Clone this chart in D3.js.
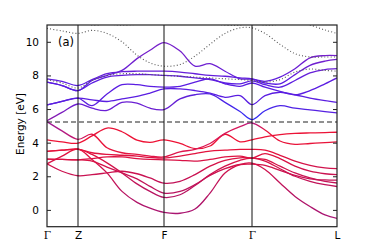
<!DOCTYPE html>
<html><head><meta charset="utf-8">
<script src="https://cdn.jsdelivr.net/npm/d3@7"></script>
<style>body{margin:0;background:#fff}</style>
</head><body><svg id="c" width="374" height="252"></svg>
<script>
// ---------- data ----------
const kLabels = ["Γ", "Z", "F", "Γ", "L"];
const kTicks  = [0, 0.31, 1.17, 2.05, 2.90];
const kGrid   = [0, 0.15, 0.31, 0.45, 0.60, 0.75, 0.90, 1.03, 1.17, 1.33, 1.48, 1.63, 1.78, 1.93, 2.05, 2.18, 2.33, 2.48, 2.63, 2.78, 2.90];
const fermiLevel = 5.23;
const yTickValues = [0, 2, 4, 6, 8, 10];

// valence bands (eV)
const bandV0 = [5.25, 4.7, 4.2, 4.5, 3.7, 3.4, 3.3, 3.2, 3.15, 3.45, 3.6, 3.95, 4.55, 4.95, 5.17, 4.75, 4.1, 3.9, 3.95, 4.0, 4.05];
const bandV1 = [4.17, 4.05, 3.97, 4.4, 4.87, 4.65, 4.15, 4.02, 4.17, 3.95, 3.65, 3.8, 4.5, 4.05, 4.17, 4.35, 4.48, 4.55, 4.58, 4.6, 4.62];
const bandV2 = [3.48, 3.55, 3.6, 3.4, 3.3, 3.25, 3.2, 3.12, 3.08, 3.2, 3.35, 3.5, 3.55, 3.6, 3.6, 3.55, 3.25, 2.9, 2.65, 2.5, 2.45];
const bandV3 = [3.02, 3.0, 2.98, 3.05, 3.15, 3.15, 3.05, 3.0, 2.98, 2.95, 2.9, 3.0, 3.15, 3.2, 3.08, 3.35, 3.05, 2.6, 2.3, 2.15, 2.1];
const bandV4 = [2.74, 2.3, 2.03, 2.1, 2.2, 2.3, 2.15, 1.9, 1.59, 1.7, 2.1, 2.6, 2.95, 3.1, 3.08, 3.0, 2.6, 2.2, 1.9, 1.7, 1.6];
const bandV5 = [3.02, 3.0, 2.98, 2.9, 2.55, 2.2, 1.85, 1.4, 1.0, 1.1, 1.5, 2.05, 2.45, 2.7, 2.72, 2.65, 2.35, 2.05, 1.85, 1.78, 1.77];
const bandV6 = [3.48, 3.55, 3.62, 3.3, 2.8, 2.2, 1.55, 1.1, 0.74, 0.9, 1.45, 2.1, 2.6, 2.95, 3.08, 2.9, 2.45, 2.0, 1.7, 1.5, 1.39];
const bandV7 = [2.74, 3.2, 3.62, 3.0, 2.2, 1.1, 0.45, 0.1, -0.15, -0.2, 0.05, 1.0, 2.2, 2.7, 2.78, 2.4, 1.6, 0.8, 0.2, -0.3, -0.5];

// conduction bands (eV)
const bandC0 = [5.3, 5.8, 6.3, 6.05, 5.92, 6.4, 6.35, 6.05, 5.97, 6.6, 6.85, 6.9, 6.4, 5.85, 5.37, 5.9, 6.2, 6.05, 5.95, 5.85, 5.77];
const bandC1 = [6.25, 6.45, 6.65, 6.55, 6.45, 6.6, 6.75, 6.95, 7.2, 7.2, 7.1, 6.95, 6.7, 6.8, 6.26, 6.8, 7.0, 6.85, 6.65, 6.5, 6.4];
const bandC2 = [6.25, 6.45, 6.65, 6.2, 6.9, 7.45, 7.45, 7.35, 7.3, 7.35, 7.6, 7.8, 7.5, 7.35, 7.55, 7.3, 7.05, 6.85, 7.1, 7.5, 7.85];
const bandC3 = [7.6, 7.4, 7.1, 7.55, 7.9, 8.0, 8.05, 8.05, 8.0, 7.95, 7.85, 7.75, 7.55, 7.5, 7.68, 7.45, 7.3, 7.7, 8.15, 8.35, 8.4];
const bandC4 = [7.8, 7.65, 7.4, 7.75, 8.1, 8.22, 8.25, 8.25, 8.25, 8.2, 8.1, 8.0, 7.95, 7.85, 7.8, 7.55, 7.5, 8.05, 8.6, 8.85, 8.95];
const bandC5 = [7.6, 7.4, 7.1, 7.7, 8.0, 8.3, 9.0, 9.5, 9.95, 9.45, 8.55, 8.7, 8.25, 7.8, 7.78, 7.65, 7.9, 8.4, 9.05, 9.18, 9.18];

// dotted bands (eV)
const bandD0 = [10.8, 10.65, 10.5, 10.68, 10.5, 10.0, 9.2, 8.75, 8.55, 8.65, 9.15, 9.85, 10.5, 10.83, 10.83, 10.5, 9.85, 9.3, 9.1, 9.1, 9.1];
const bandD1 = [11.4, 11.3, 11.2, 11.0, 11.05, 11.0, 11.05, 11.2, 11.4, 11.4, 11.3, 11.1, 11.0, 11.0, 11.1, 11.0, 11.05, 11.2, 11.0, 10.7, 10.5];
const bandD2 = [7.75, 7.55, 7.25, 7.7, 8.0, 8.1, 8.1, 8.05, 8.0, 7.95, 7.9, 7.85, 7.8, 7.75, 7.7, 7.6, 7.75, 8.2, 8.38, 8.3, 8.25];

const valenceBands = [bandV1, bandV2, bandV3, bandV4, bandV5, bandV6, bandV7];
const conductionBands = [bandC1, bandC2, bandC3, bandC4, bandC5];
const dottedBands = [bandD0, bandD1, bandD2];

// ---------- drawing ----------
const L = 47, R = 337, T = 25, B = 226.7;
const svg = d3.select("#c");
const x = d3.scaleLinear().domain([0, 2.90]).range([L, R]);
const y = d3.scaleLinear().domain([-1, 11]).range([B, T]);

const defs = svg.append("defs");
defs.append("clipPath").attr("id", "clip").append("rect")
  .attr("x", L).attr("y", T).attr("width", R - L).attr("height", B - T);

function vgrad(id, stops) {
  const g = defs.append("linearGradient").attr("id", id)
    .attr("gradientUnits", "userSpaceOnUse")
    .attr("x1", 0).attr("x2", 0).attr("y1", y(-1)).attr("y2", y(11));
  stops.forEach(([e, c]) => g.append("stop")
    .attr("offset", (e + 1) / 12).attr("stop-color", c));
}
function hgrad(id, stops) {
  const g = defs.append("linearGradient").attr("id", id)
    .attr("gradientUnits", "userSpaceOnUse")
    .attr("x1", x(0)).attr("x2", x(2.9)).attr("y1", 0).attr("y2", 0);
  stops.forEach(([k, c]) => g.append("stop")
    .attr("offset", k / 2.9).attr("stop-color", c));
}
vgrad("gv", [[-1, "#a3177c"], [0.5, "#b01468"], [2.5, "#d0124c"], [4.0, "#ee1234"], [5.3, "#e8143a"], [11, "#e8143a"]]);
vgrad("gc", [[-1, "#3526f2"], [5.3, "#3a24f2"], [6.0, "#5a1fe0"], [7.5, "#5a1ce2"], [9.0, "#7420cc"], [11, "#7a22c8"]]);
hgrad("gv0", [[0, "#9a1c9c"], [0.31, "#c8186a"], [0.5, "#e8143a"], [1.9, "#d8185a"], [2.05, "#b01c8a"], [2.2, "#e8143a"], [2.9, "#e8143a"]]);
hgrad("gc0", [[0, "#8c1aa6"], [0.31, "#6a1ed8"], [1.17, "#6a1ed0"], [1.8, "#4a24e8"], [2.05, "#2f2ff6"], [2.3, "#4a22e6"], [2.9, "#5a20e0"]]);

const line = d3.line()
  .x((d, i) => x(kGrid[i]))
  .y(d => y(d))
  .curve(d3.curveCatmullRom.alpha(0.5));

const plot = svg.append("g").attr("clip-path", "url(#clip)");

plot.selectAll(".vb").data(valenceBands).join("path")
  .attr("d", line).attr("fill", "none")
  .attr("stroke", "url(#gv)").attr("stroke-width", 1.3);
plot.append("path").datum(bandV0).attr("d", line).attr("fill", "none")
  .attr("stroke", "url(#gv0)").attr("stroke-width", 1.3);

plot.selectAll(".cb").data(conductionBands).join("path")
  .attr("d", line).attr("fill", "none")
  .attr("stroke", "url(#gc)").attr("stroke-width", 1.3);
plot.append("path").datum(bandC0).attr("d", line).attr("fill", "none")
  .attr("stroke", "url(#gc0)").attr("stroke-width", 1.3);

plot.selectAll(".db").data(dottedBands).join("path")
  .attr("d", line).attr("fill", "none")
  .attr("stroke", "#555").attr("stroke-width", 1.1)
  .attr("stroke-dasharray", "1,2.2");

// Fermi level
svg.append("line")
  .attr("x1", L).attr("x2", R).attr("y1", y(fermiLevel)).attr("y2", y(fermiLevel))
  .attr("stroke", "#222").attr("stroke-width", 1.1).attr("stroke-dasharray", "5,3");

// high symmetry vertical lines
svg.selectAll(".hs").data(kTicks.slice(1, -1)).join("line")
  .attr("x1", d => x(d)).attr("x2", d => x(d)).attr("y1", T).attr("y2", B)
  .attr("stroke", "#111").attr("stroke-width", 1);

// frame
svg.append("rect").attr("x", L).attr("y", T).attr("width", R - L).attr("height", B - T)
  .attr("fill", "none").attr("stroke", "#222").attr("stroke-width", 1.2);

// y axis (inward ticks, both sides)
const yAxis = d3.axisLeft(y).tickValues(yTickValues).tickSizeInner(-4).tickSizeOuter(0).tickPadding(8);
const gy = svg.append("g").attr("transform", `translate(${L},0)`).call(yAxis);
gy.select(".domain").remove();
gy.selectAll("text").attr("font-family", "DejaVu Sans").attr("font-size", 10.5).attr("fill", "#000");
gy.selectAll("line").attr("stroke", "#222");
const yAxisR = d3.axisRight(y).tickValues(yTickValues).tickSizeInner(-4).tickSizeOuter(0).tickFormat("");
const gyr = svg.append("g").attr("transform", `translate(${R},0)`).call(yAxisR);
gyr.select(".domain").remove();
gyr.selectAll("line").attr("stroke", "#222");

// x axis labels
const xAxis = d3.axisBottom(x).tickValues(kTicks).tickSize(0).tickPadding(5)
  .tickFormat((d, i) => kLabels[i]);
const gx = svg.append("g").attr("transform", `translate(0,${B})`).call(xAxis);
gx.select(".domain").remove();
gx.selectAll("text").attr("font-size", 10.5).attr("fill", "#000")
  .attr("font-family", (d, i) => kLabels[i] === "Γ" ? "DejaVu Serif" : "DejaVu Sans");

// y label
svg.append("text").attr("transform", `translate(24,124) rotate(-90)`)
  .attr("text-anchor", "middle").attr("font-family", "DejaVu Sans").attr("font-size", 10.5)
  .text("Energy [eV]");

// panel label
svg.append("text").attr("x", 58).attr("y", 46).attr("font-family", "DejaVu Sans")
  .attr("font-size", 11.5).text("(a)");
</script></body></html>
